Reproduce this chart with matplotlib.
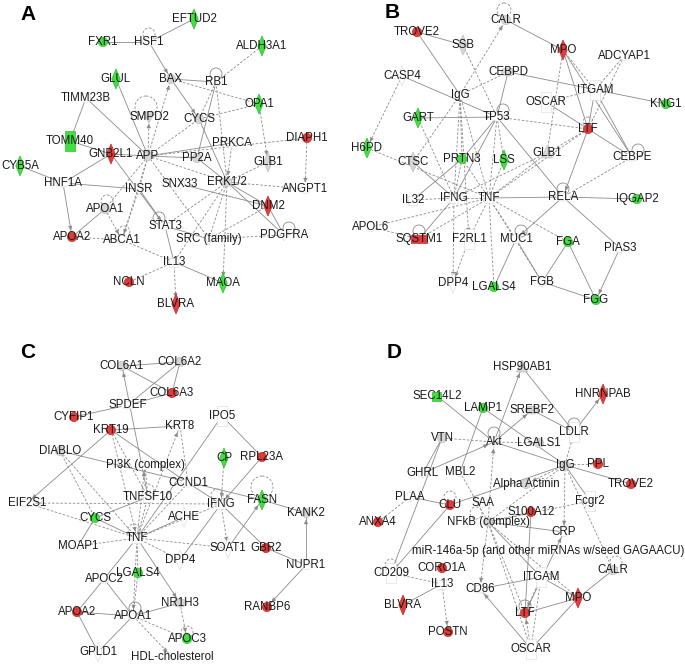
import numpy as np
import matplotlib
matplotlib.use("Agg")
import matplotlib.pyplot as plt
import matplotlib.patches as mpatches

# ---------------- data ----------------
# node: (label, x, y, molecule shape, regulation)  r=up (red), g=down (green), n=grey, w=none
panel_labels = ["A", "B", "C", "D"]
panel_label_pos = [(28, 14), (392, 13), (28, 353), (394, 352)]

nodes_A = [
    ("EFTUD2", 194, 19, "D", "g"), ("FXR1", 103, 42, "o", "g"), ("HSF1", 149, 42, "E", "w"),
    ("ALDH3A1", 262, 46, "D", "g"), ("GLUL", 116, 79, "D", "g"), ("BAX", 171, 79, "o", "n"),
    ("RB1", 216, 82, "E", "w"), ("TIMM23B", 86, 98, "o", "w"), ("OPA1", 259, 104, "D", "g"),
    ("SMPD2", 149, 117, "v", "n"), ("CYCS", 199, 119, "o", "n"), ("TOMM40", 70, 141, "R", "g"),
    ("PRKCA", 232, 143, "v", "w"), ("DIAPH1", 307, 138, "o", "r"), ("GNB2L1", 111, 154, "D", "r"),
    ("APP", 148, 156, "o", "n"), ("PP2A", 197, 158, "o", "n"), ("GLB1", 268, 162, "D", "n"),
    ("CYB5A", 20, 166, "D", "g"), ("HNF1A", 63, 183, "E", "w"), ("INSR", 139, 189, "v", "w"),
    ("SNX33", 180, 184, "o", "w"), ("ERK1/2", 227, 182, "o", "n"), ("ANGPT1", 305, 189, "o", "w"),
    ("DNM2", 268, 206, "D", "r"), ("APOA1", 105, 209, "o", "n"), ("STAT3", 165, 226, "E", "w"),
    ("APOA2", 72, 237, "o", "r"), ("ABCA1", 122, 240, "o", "w"), ("SRC (family)", 209, 239, "v", "w"),
    ("PDGFRA", 284, 235, "v", "w"), ("IL13", 174, 262, "s", "w"), ("NCLN", 129, 282, "o", "r"),
    ("MAOA", 223, 283, "D", "g"), ("BLVRA", 176, 304, "D", "r"),
]
edges_A = [
    ("FXR1", "HSF1", "s"), ("EFTUD2", "HSF1", "s"), ("HSF1", "BAX", "s>"), ("ALDH3A1", "RB1", "d"),
    ("BAX", "RB1", "s"), ("BAX", "OPA1", "d"), ("BAX", "CYCS", "s>"), ("RB1", "CYCS", "d"),
    ("RB1", "ERK1/2", "d"), ("RB1", "PP2A", "s"), ("OPA1", "CYCS", "d"), ("OPA1", "GLB1", "d>"),
    ("GLUL", "APP", "s"), ("TIMM23B", "APP", "s"), ("TIMM23B", "TOMM40", "s"), ("TOMM40", "GNB2L1", "s"),
    ("GNB2L1", "APP", "s"), ("GNB2L1", "HNF1A", "s"), ("GNB2L1", "STAT3", "s>"), ("CYB5A", "HNF1A", "s"),
    ("HNF1A", "INSR", "s"), ("HNF1A", "APOA2", "s>"), ("APP", "SMPD2", "d>"), ("APP", "BAX", "d>"),
    ("APP", "CYCS", "d"), ("APP", "PP2A", "s"), ("APP", "INSR", "d"), ("APP", "ERK1/2", "d"),
    ("APP", "APOA1", "d"), ("APP", "ABCA1", "d>"), ("APP", "SRC (family)", "d"), ("APP", "DIAPH1", "d"),
    ("APP", "PRKCA", "s"), ("DIAPH1", "ANGPT1", "d>"), ("ERK1/2", "ANGPT1", "d"), ("ERK1/2", "DNM2", "s"),
    ("ERK1/2", "PDGFRA", "s"), ("ERK1/2", "GLB1", "d"), ("SNX33", "DNM2", "s"), ("ERK1/2", "STAT3", "d"),
    ("ERK1/2", "SRC (family)", "d"), ("ERK1/2", "MAOA", "d>"), ("ERK1/2", "IL13", "d"),
    ("PRKCA", "ERK1/2", "d>"), ("PP2A", "ERK1/2", "s"), ("CYCS", "ERK1/2", "s"), ("DNM2", "SRC (family)", "d"),
    ("DNM2", "PDGFRA", "s"), ("SRC (family)", "PDGFRA", "d"), ("SRC (family)", "STAT3", "s"),
    ("STAT3", "IL13", "s"), ("IL13", "BLVRA", "d>"), ("IL13", "MAOA", "s"), ("IL13", "NCLN", "d"),
    ("IL13", "ABCA1", "d"), ("APOA1", "APOA2", "s"), ("APOA1", "ABCA1", "d>"), ("APOA2", "ABCA1", "d"),
    ("INSR", "ABCA1", "d"), ("INSR", "STAT3", "s"),
]
loops_A = [("HSF1", 0, -8, 6, "d"), ("RB1", 0, -8, 6, "s"), ("SMPD2", -3, -10, 11, "d"),
           ("APOA1", 2, -8, 6, "d"), ("STAT3", -6, -8, 6, "s"), ("ABCA1", 2, -8, 6, "d"),
           ("PDGFRA", 5, -7, 6, "s")]

nodes_B = [
    ("TROVE2", 417, 32, "o", "r"), ("SSB", 463, 45, "D", "n"), ("CALR", 506, 20, "o", "n"),
    ("MPO", 563, 50, "D", "r"), ("ADCYAP1", 624, 56, "o", "w"), ("CASP4", 402, 76, "D", "w"),
    ("CEBPD", 508, 72, "E", "n"), ("IgG", 460, 95, "o", "w"), ("ITGAM", 595, 90, "R", "w"),
    ("KNG1", 666, 104, "o", "g"), ("OSCAR", 546, 102, "R", "w"), ("GART", 418, 118, "D", "g"),
    ("TP53", 497, 117, "E", "w"), ("LTF", 588, 129, "o", "r"), ("H6PD", 367, 148, "D", "g"),
    ("GLB1", 547, 153, "^", "n"), ("CEBPE", 632, 157, "E", "w"), ("CTSC", 413, 162, "D", "n"),
    ("PRTN3", 462, 159, "o", "g"), ("LSS", 504, 160, "D", "g"), ("IL32", 413, 200, "s", "w"),
    ("IFNG", 454, 198, "s", "w"), ("TNF", 489, 198, "s", "w"), ("RELA", 563, 197, "E", "w"),
    ("IQGAP2", 637, 199, "o", "g"), ("APOL6", 371, 227, "o", "w"), ("SQSTM1", 419, 239, "H", "r"),
    ("F2RL1", 469, 239, "R", "w"), ("MUC1", 516, 239, "o", "w"), ("FGA", 568, 242, "o", "g"),
    ("PIAS3", 620, 248, "o", "w"), ("FGB", 542, 282, "o", "w"), ("DPP4", 453, 283, "D", "w"),
    ("LGALS4", 494, 287, "o", "g"), ("FGG", 596, 300, "o", "g"),
]
edges_B = [
    ("TROVE2", "SSB", "s"), ("TROVE2", "IgG", "s"), ("SSB", "TP53", "d"), ("IgG", "CALR", "d>"),
    ("CALR", "MPO", "s"), ("CASP4", "TP53", "s"), ("CASP4", "H6PD", "d>"), ("CEBPD", "KNG1", "s"),
    ("CEBPD", "IgG", "d"), ("CEBPD", "TP53", "s"), ("IgG", "PRTN3", "d"), ("IgG", "CTSC", "d"),
    ("IgG", "IFNG", "d"), ("IgG", "TNF", "d"), ("IgG", "F2RL1", "d>"), ("GART", "TP53", "s>"),
    ("GART", "IFNG", "d"), ("TP53", "PRTN3", "s"), ("TP53", "LSS", "d"), ("TP53", "TNF", "d"),
    ("TP53", "RELA", "s"), ("TP53", "LTF", "d"), ("TP53", "IFNG", "s"), ("MPO", "LTF", "s"),
    ("MPO", "ITGAM", "d"), ("MPO", "GLB1", "d"), ("MPO", "CEBPE", "s"), ("ADCYAP1", "LTF", "d"),
    ("ADCYAP1", "ITGAM", "d"), ("OSCAR", "ITGAM", "d"), ("OSCAR", "LTF", "s"), ("ITGAM", "LTF", "s"),
    ("ITGAM", "CEBPE", "s"), ("LTF", "CEBPE", "s"), ("LTF", "GLB1", "d"), ("LTF", "TNF", "d"),
    ("LTF", "RELA", "s>"), ("GLB1", "TNF", "d"), ("GLB1", "IFNG", "d"), ("CEBPE", "RELA", "d"),
    ("H6PD", "TNF", "d"), ("CTSC", "IFNG", "s"), ("PRTN3", "IFNG", "d"), ("PRTN3", "TNF", "d"),
    ("PRTN3", "IL32", "s"), ("LSS", "TNF", "d"), ("IL32", "IFNG", "d"), ("IFNG", "TNF", "d"),
    ("IFNG", "SQSTM1", "s"), ("IFNG", "DPP4", "d>"), ("APOL6", "TNF", "d"), ("APOL6", "SQSTM1", "d"),
    ("TNF", "RELA", "s"), ("TNF", "SQSTM1", "d"), ("TNF", "F2RL1", "d"), ("TNF", "MUC1", "d"),
    ("TNF", "LGALS4", "d"), ("TNF", "FGA", "d"), ("TNF", "FGB", "d"), ("RELA", "IQGAP2", "s"),
    ("RELA", "PIAS3", "s"), ("RELA", "MUC1", "s>"), ("MUC1", "FGB", "s"), ("MUC1", "LGALS4", "s"),
    ("FGA", "FGB", "s"), ("FGA", "FGG", "s"), ("FGB", "FGG", "s"), ("PIAS3", "FGG", "s>"),
    ("F2RL1", "DPP4", "d>"),
]
loops_B = [("CALR", -2, -10, 7, "d"), ("TP53", 6, -7, 6, "s"), ("RELA", 0, -8, 6, "s"),
           ("SQSTM1", 0, -8, 6, "s"), ("MUC1", 5, -8, 6, "s"), ("CEBPE", 6, -7, 6, "s"),
           ("LTF", 0, -7, 5, "d")]

nodes_C = [
    ("COL6A1", 122, 366, "o", "n"), ("COL6A2", 180, 362, "o", "n"), ("COL6A3", 172, 393, "o", "r"),
    ("SPDEF", 128, 405, "E", "w"), ("CYFIP1", 74, 417, "o", "r"), ("IPO5", 222, 416, "R", "w"),
    ("KRT19", 111, 430, "o", "r"), ("KRT8", 180, 426, "o", "w"), ("DIABLO", 60, 451, "o", "n"),
    ("CP", 224, 458, "D", "g"), ("RPL23A", 262, 457, "o", "r"), ("PI3K (complex)", 145, 465, "o", "w"),
    ("CCND1", 188, 483, "E", "w"), ("TNFSF10", 148, 497, "s", "w"), ("EIF2S1", 27, 503, "E", "w"),
    ("IFNG", 221, 504, "s", "w"), ("FASN", 262, 500, "D", "g"), ("KANK2", 306, 513, "o", "n"),
    ("CYCS", 95, 518, "o", "g"), ("ACHE", 184, 517, "D", "w"), ("TNF", 137, 538, "s", "w"),
    ("MOAP1", 78, 546, "o", "w"), ("SOAT1", 228, 548, "D", "w"), ("GBR2", 266, 548, "o", "r"),
    ("DPP4", 180, 560, "D", "w"), ("NUPR1", 306, 565, "o", "w"), ("LGALS4", 138, 573, "o", "g"),
    ("APOC2", 104, 579, "o", "w"), ("NR1H3", 180, 603, "E", "n"), ("RANBP6", 267, 607, "o", "r"),
    ("APOA2", 77, 612, "o", "r"), ("APOA1", 133, 616, "o", "w"), ("APOC3", 187, 639, "o", "g"),
    ("GPLD1", 98, 652, "D", "w"), ("HDL-cholesterol", 172, 657, "", ""),
]
edges_C = [
    ("COL6A1", "COL6A2", "s"), ("COL6A1", "COL6A3", "s"), ("COL6A2", "COL6A3", "s"), ("COL6A2", "SPDEF", "s"),
    ("COL6A3", "SPDEF", "s"), ("SPDEF", "CYFIP1", "s"), ("TNFSF10", "COL6A1", "s>"), ("KRT19", "KRT8", "s"),
    ("KRT19", "EIF2S1", "s>"), ("KRT19", "TNF", "d>"), ("KRT19", "TNFSF10", "d"), ("KRT19", "CCND1", "s"),
    ("TNF", "KRT8", "d>"), ("KRT8", "CCND1", "d"), ("IPO5", "TNF", "s"), ("IPO5", "RPL23A", "s"),
    ("RPL23A", "IFNG", "s>"), ("DIABLO", "CYCS", "d"), ("DIABLO", "TNF", "d"), ("DIABLO", "FASN", "s"),
    ("CP", "IFNG", "d>"), ("TNF", "PI3K (complex)", "d>"), ("PI3K (complex)", "TNFSF10", "d"),
    ("CCND1", "TNF", "d"), ("CCND1", "IFNG", "s"), ("TNFSF10", "CYCS", "s"), ("TNFSF10", "TNF", "d"),
    ("EIF2S1", "IFNG", "d"), ("EIF2S1", "TNF", "d"), ("IFNG", "TNF", "d"), ("IFNG", "SOAT1", "d>"),
    ("IFNG", "GBR2", "s"), ("IFNG", "DPP4", "s"), ("SOAT1", "FASN", "s>"), ("FASN", "KANK2", "s"),
    ("NUPR1", "KANK2", "s>"), ("NUPR1", "GBR2", "s"), ("NUPR1", "RANBP6", "s>"), ("CYCS", "TNF", "s"),
    ("CYCS", "MOAP1", "s"), ("MOAP1", "TNF", "d"), ("ACHE", "TNF", "s"), ("TNF", "DPP4", "d"),
    ("TNF", "SOAT1", "d"), ("TNF", "LGALS4", "d"), ("TNF", "APOC2", "s"), ("TNF", "APOA1", "d>"),
    ("TNF", "NR1H3", "s>"), ("APOC2", "APOA2", "s"), ("APOC2", "APOA1", "s"), ("APOA2", "APOA1", "s"),
    ("APOA2", "GPLD1", "s"), ("APOA1", "GPLD1", "s"), ("APOA1", "NR1H3", "s"), ("APOA1", "APOC3", "d"),
    ("APOA1", "HDL-cholesterol", "d>"), ("NR1H3", "APOC3", "d>"), ("LGALS4", "APOA1", "d"),
]
loops_C = [("IFNG", -4, -9, 6, "d"), ("FASN", 0, -13, 11, "d"), ("TNFSF10", 0, -7, 6, "d"),
           ("TNF", -3, -8, 6, "d"), ("APOA1", 2, -8, 6, "s"), ("APOC3", 0, -7, 6, "d")]

nodes_D = [
    ("HSP90AB1", 522, 367, "^", "n"), ("SEC14L2", 437, 396, "s", "g"), ("HNRNPAB", 603, 394, "D", "r"),
    ("LAMP1", 483, 408, "o", "g"), ("SREBF2", 532, 410, "E", "n"), ("LDLR", 574, 432, "R", "w"),
    ("VTN", 442, 438, "o", "n"), ("Akt", 494, 442, "v", "w"), ("LGALS1", 539, 443, "o", "n"),
    ("IgG", 565, 465, "o", "n"), ("PPL", 598, 464, "o", "r"), ("GHRL", 423, 473, "o", "w"),
    ("MBL2", 460, 472, "o", "w"), ("Alpha Actinin", 526, 484, "o", "n"), ("TROVE2", 631, 484, "o", "r"),
    ("PLAA", 410, 497, "o", "w"), ("CLU", 450, 505, "o", "r"), ("SAA", 483, 503, "o", "w"),
    ("Fcgr2", 590, 501, "R", "w"), ("S100A12", 531, 512, "o", "r"), ("ANXA4", 378, 522, "o", "r"),
    ("NFkB (complex)", 488, 522, "o", "n"), ("CRP", 564, 532, "o", "w"),
    ("miR-146a-5p (and other miRNAs w/seed GAGAACU)", 548, 551, "", ""),
    ("CD209", 391, 573, "R", "w"), ("CORO1A", 442, 568, "o", "r"), ("ITGAM", 541, 577, "R", "w"),
    ("CALR", 613, 570, "o", "n"), ("IL13", 442, 584, "s", "w"), ("CD86", 480, 589, "E", "w"),
    ("MPO", 578, 598, "D", "r"), ("BLVRA", 403, 605, "D", "r"), ("LTF", 525, 613, "o", "r"),
    ("POSTN", 448, 632, "o", "r"), ("OSCAR", 531, 649, "R", "w"),
]
edges_D = [
    ("HSP90AB1", "LDLR", "s"), ("Akt", "HSP90AB1", "s>"), ("SEC14L2", "Akt", "s"), ("LAMP1", "IgG", "s"),
    ("LAMP1", "MBL2", "s"), ("SREBF2", "LDLR", "s"), ("Akt", "SREBF2", "s>"), ("LDLR", "HNRNPAB", "s>"),
    ("IgG", "LDLR", "d>"), ("VTN", "Akt", "d"), ("VTN", "GHRL", "s"), ("VTN", "CD209", "s"),
    ("Akt", "LGALS1", "d"), ("Akt", "IgG", "s"), ("GHRL", "Akt", "s>"), ("NFkB (complex)", "Akt", "d>"),
    ("IgG", "PPL", "d"), ("IgG", "TROVE2", "s"), ("IgG", "Alpha Actinin", "d>"), ("IgG", "Fcgr2", "s"),
    ("IgG", "CRP", "d>"), ("IgG", "NFkB (complex)", "d"), ("IgG", "CLU", "s"), ("IgG", "CALR", "d"),
    ("PLAA", "ANXA4", "d"), ("PLAA", "CLU", "s"), ("CLU", "CD209", "s"), ("S100A12", "NFkB (complex)", "d"),
    ("S100A12", "LTF", "s"), ("Fcgr2", "NFkB (complex)", "d"), ("MBL2", "NFkB (complex)", "d"),
    ("NFkB (complex)", "CD86", "d>"), ("NFkB (complex)", "LTF", "d"), ("NFkB (complex)", "MPO", "d"),
    ("NFkB (complex)", "OSCAR", "d"), ("NFkB (complex)", "ITGAM", "s"), ("NFkB (complex)", "CRP", "s"),
    ("LTF", "CRP", "s>"), ("CD209", "IL13", "d"), ("IL13", "BLVRA", "s"), ("IL13", "POSTN", "d>"),
    ("CD86", "ITGAM", "s"), ("OSCAR", "CD86", "s>"), ("ITGAM", "LTF", "d>"), ("ITGAM", "MPO", "s"),
    ("CALR", "MPO", "s"), ("MPO", "LTF", "s"), ("OSCAR", "LTF", "d>"), ("OSCAR", "ITGAM", "d"),
    ("OSCAR", "MPO", "s"),
]
loops_D = [("LDLR", 0, -8, 6, "s"), ("Akt", 0, -9, 6, "s"), ("CLU", 0, -8, 6, "d"),
           ("NFkB (complex)", -12, -9, 6, "d"), ("CD209", 0, -8, 6, "d"), ("CALR", 3, -8, 6, "d"),
           ("LTF", 0, -7, 6, "s")]

panels = [(nodes_A, edges_A, loops_A), (nodes_B, edges_B, loops_B),
          (nodes_C, edges_C, loops_C), (nodes_D, edges_D, loops_D)]

# ---------------- style ----------------
FONT = ["Liberation Sans", "DejaVu Sans"]
EDGE_C = "#8a8a8a"
FILL = {"r": "#e23b3b", "g": "#3fe03f", "n": "#d6d6d6", "w": "white"}
EDGE = {"r": "#c42a2a", "g": "#2fbf2f", "n": "#c0c0c0", "w": "#e0e0e0"}
DASH = (0, (3, 2))

fig = plt.figure(figsize=(6.85, 6.64), dpi=100)
ax = fig.add_axes([0, 0, 1, 1])
ax.set_xlim(0, 685)
ax.set_ylim(664, 0)
ax.axis("off")


def shape_patch(shape, x, y, fc, ec):
    kw = dict(fc=fc, ec=ec, lw=0.5, zorder=3)
    if shape == "o":
        return mpatches.Circle((x, y), 4.6, **kw)
    if shape == "D":
        return mpatches.Polygon([(x, y - 10), (x + 4.2, y), (x, y + 10), (x - 4.2, y)], closed=True, **kw)
    if shape == "R":
        return mpatches.Rectangle((x - 5, y - 10), 10, 20, **kw)
    if shape == "H":
        return mpatches.Rectangle((x - 8, y - 4), 16, 8, **kw)
    if shape == "s":
        return mpatches.Rectangle((x - 4.5, y - 4.5), 9, 9, **kw)
    if shape == "E":
        return mpatches.Ellipse((x, y), 14, 8, **kw)
    if shape == "v":
        return mpatches.Polygon([(x - 5.5, y - 5), (x + 5.5, y - 5), (x, y + 6)], closed=True, **kw)
    if shape == "^":
        return mpatches.Polygon([(x - 5.5, y + 5), (x + 5.5, y + 5), (x, y - 7)], closed=True, **kw)
    return None


for nodes, edges, loops in panels:
    pos = {n[0]: (n[1], n[2]) for n in nodes}
    # edges
    for a, b, st in edges:
        (x1, y1), (x2, y2) = pos[a], pos[b]
        ls = DASH if st[0] == "d" else "-"
        ax.plot([x1, x2], [y1, y2], color=EDGE_C, lw=0.6, ls=ls, zorder=1)
        if st.endswith(">"):
            v = np.array([x2 - x1, y2 - y1], float)
            L = np.hypot(*v)
            u = v / L
            pn = np.array([-u[1], u[0]])
            tip = np.array([x2, y2]) - u * 7
            base = tip - u * 4
            tri = [tip, base + pn * 1.8, base - pn * 1.8]
            ax.add_patch(mpatches.Polygon(tri, closed=True, fc=EDGE_C, ec=EDGE_C, lw=0.3, zorder=2))
    # self loops
    for n, dx, dy, r, st in loops:
        x, y = pos[n]
        ax.add_patch(mpatches.Circle((x + dx, y + dy), r, fill=False, ec=EDGE_C, lw=0.6,
                                     ls=DASH if st == "d" else "-", zorder=2))
    # nodes + labels
    for name, x, y, shape, reg in nodes:
        if shape:
            p = shape_patch(shape, x, y, FILL[reg], EDGE[reg])
            ax.add_patch(p)
        ax.text(x, y, name, ha="center", va="center", fontsize=8.3, family=FONT,
                color="#1a1a1a", zorder=4)

for lab, (x, y) in zip(panel_labels, panel_label_pos):
    ax.text(x, y, lab, ha="center", va="center", fontsize=15, weight="bold", family=FONT, zorder=5)

fig.savefig("out.png", dpi=100, facecolor="white")
